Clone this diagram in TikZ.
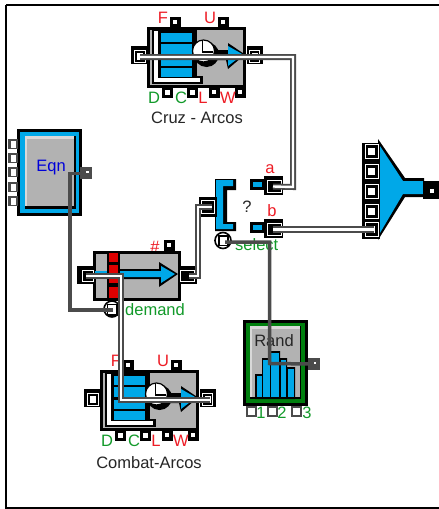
\documentclass[tikz,border=0pt]{standalone}
\usepackage{fontspec}
\setmainfont{Liberation Sans}
\definecolor{wgray}{HTML}{4B4B4B}
\definecolor{bgray}{HTML}{B2B2B2}
\definecolor{bblue}{HTML}{00A8E8}
\definecolor{lred}{HTML}{EE1C25}
\definecolor{lgreen}{HTML}{129A2A}
\definecolor{bgreen}{HTML}{007F0E}
\definecolor{bred}{HTML}{DD0000}
\tikzset{
  lbl/.style={font=\fontsize{16.5}{18}\selectfont,inner sep=0pt,anchor=center},
  redlbl/.style={lbl,text=lred},
  greenlbl/.style={lbl,text=lgreen},
  blacklbl/.style={lbl,text=black!85},
  doublewire/.style={draw=wgray,line width=6pt,postaction={draw=white,line width=2.4pt}},
  thickwire/.style={draw=wgray,line width=7pt,postaction={draw=white,line width=3pt}},
  plainwire/.style={draw=wgray,line width=3.5pt},
  portwhite/.style={draw=black,fill=white,line width=3pt,minimum size=8pt,inner sep=0pt},
  portdot/.style={fill=black,minimum size=11pt,inner sep=0pt,path picture={\fill[white] (path picture bounding box.center) ++(-1.8,-1.8) rectangle ++(3.6,3.6);}},
  portout/.style={fill=wgray,minimum size=12pt,inner sep=0pt},
  portlarge/.style={fill=black,minimum width=16pt,minimum height=18pt,inner sep=0pt},
  ctrl/.style={circle,draw=black,line width=1.6pt,fill=white,minimum size=16pt,inner sep=0pt},
}
\newcommand{\tank}{%
  \draw[fill=bgray,line width=3pt,draw=black] (148.5,28.5) rectangle (244.5,86);
  \fill[black] (152,29) rectangle (202.5,84);
  \fill[bgray] (197,29.5) rectangle (202.5,76);
  \fill[white] (153.5,31) rectangle (158,82);
  \fill[white] (153.5,77.5) rectangle (200,82);
  \fill[bgray] (150,29.5) rectangle (152,84.5);
  \fill[black] (158,30) rectangle (196,77);
  \fill[bblue] (161,33) rectangle (192,42);
  \fill[bblue] (161,44) rectangle (192,54);
  \fill[bblue] (161,57) rectangle (192,66);
  \fill[bblue] (161,68) rectangle (192,77);
  \fill[black] (208,50) -- (228,50) -- (228,43) -- (245,54.5) -- (228,69) -- (226,60) -- (208,60) -- cycle;
  \fill[bblue] (228,46) -- (243,54.5) -- (228,66) -- cycle;
  \fill[black] (206.5,54.5) circle (12.5);
  \draw[black,fill=white,line width=1.2pt] (203.5,51) circle (11);
  \draw[black,line width=1.2pt] (202.5,41) -- (202.5,52) -- (213,52);
  \fill[black] (131,46) rectangle (147,64);
  \draw[white,line width=1pt] (134.5,50) rectangle (145,62);
  \fill[white] (137,52.5) rectangle (143,59.5);
  \fill[black] (247,46) rectangle (263,64);
  \draw[white,line width=1pt] (249,50) rectangle (259.5,62);
  \fill[white] (252,52.5) rectangle (258,59.5);
  \node[portdot] at (175,22) {};
  \node[portdot] at (223,22) {};
  \node[portwhite] at (167,92) {};
  \node[portwhite] at (192.5,92) {};
  \node[portdot] at (214,92) {};
  \node[portdot] at (240,92) {};
  \node[redlbl] at (163,18) {F};
  \node[redlbl] at (210,18) {U};
  \node[greenlbl] at (154,98) {D};
  \node[greenlbl] at (181,98) {C};
  \node[redlbl] at (203,98) {L};
  \node[redlbl] at (228,98) {W};
}
\begin{document}
\begin{tikzpicture}[x=1pt,y=-1pt]
\useasboundingbox (0,0) rectangle (439,509);
\fill[white] (0,0) rectangle (439,509);
\draw[black,line width=2pt] (6,5) -- (445,5);
\draw[black,line width=2pt] (6,5) -- (6,507.5) -- (445,507.5);

% Cruz block
\begin{scope}\tank\end{scope}
\node[blacklbl] (cruzlabel) at (197,118) {Cruz - Arcos};
% Combat block
\begin{scope}[shift={(-47,343)}]\tank\end{scope}
\node[blacklbl] (combatlabel) at (149,463) {Combat-Arcos};

% Eqn block
\fill[black] (17,129) rectangle (82,216);
\fill[bblue] (20,132) rectangle (79,213);
\fill[black] (25,136) rectangle (76,209);
\fill[bgray!50!white] (25,136) rectangle (74,206);
\fill[bgray] (27,139) rectangle (74,206);
\node[lbl,text=blue!85!black] (eqn) at (51,168) {Eqn};
\foreach \y in {144,158,172,187,201} {\fill[wgray] (8,\y-5) rectangle (18,\y+5); \fill[white] (10.5,\y-3.5) rectangle (16,\y+3.5);}
\node[portout] (eqnout) at (86,172.5) {};

% Demand block
\node[redlbl] (hash) at (155,247) {\#};
\node[portdot] (demtop) at (169,245) {};
\draw[fill=bgray,line width=3pt,draw=black] (94.5,252.5) rectangle (179.5,299.5);
\fill[black] (107,252) rectangle (120,299);
\foreach \a/\b in {253/262,265/274,277/283,287/298} {\fill[bred] (109,\a) rectangle (118,\b);}
\fill[bblue] (95,271) rectangle (107,277);
\fill[black] (120,269) -- (159,269) -- (159,262) -- (178,274) -- (159,287) -- (159,279) -- (120,279) -- cycle;
\fill[bblue] (120,271) -- (161,271) -- (161,266) -- (175,274) -- (161,283) -- (161,277) -- (120,277) -- cycle;
\node[portlarge] (demin) at (85,275) {};
\node[portlarge] (demout) at (188.5,275) {};
\draw[white,line width=1pt] (82,270) rectangle (93,281);
\draw[white,line width=1pt] (180,270) rectangle (194,281);
\node[greenlbl,anchor=west] (demandlabel) at (125,310) {demand};
\node[ctrl] (demctrl) at (112,309) {};
\draw[black,line width=1.4pt] (107.5,304.5) rectangle (117,315);

% Switch block
\fill[black] (215,179) -- (236,179) -- (236,190) -- (227,190) -- (227,222) -- (236,222) -- (236,231) -- (215,231) -- cycle;
\fill[bblue] (216,180) -- (233,180) -- (233,186) -- (223,186) -- (223,224) -- (233,224) -- (233,229) -- (216,229) -- cycle;
\node[fill=black,minimum width=18pt,minimum height=20pt,inner sep=0pt] (swin) at (208,207) {};
\draw[white,line width=1pt] (201,200.5) rectangle (214,213);
\fill[black] (203,202.5) rectangle (212,211);
\node[lbl,text=black!85] (qm) at (247,207) {?};
\node[ctrl] (swctrl) at (223,240.5) {};
\draw[black,line width=1.4pt] (219,236) rectangle (228,245.5);
\node[greenlbl,anchor=west] (selectlabel) at (235,245) {select};
\node[redlbl] (alabel) at (270,169) {a};
\node[redlbl] (blabel) at (272,211) {b};
\foreach \y in {176,219} {
  \fill[black] (250,\y+3) rectangle (265,\y+14);
  \fill[bblue] (253,\y+6) rectangle (262,\y+11);
  \fill[black] (264,\y) rectangle (283,\y+19);
  \draw[white,line width=1pt] (267,\y+4) rectangle (281,\y+16);
}
\coordinate (ain) at (273,186.5);
\coordinate (bin) at (273,229);

% Funnel
\fill[black] (378,139) -- (405,178) -- (424,178) -- (424,197) -- (405,197) -- (378,240) -- cycle;
\fill[bblue] (380,146) -- (403,181) -- (423,181) -- (423,194) -- (403,194) -- (380,233) -- cycle;
\fill[black] (362,143) rectangle (380,239);
\foreach \y in {151,171,191,211,229} {
  \draw[white,line width=1pt] (365,\y-7) rectangle (378,\y+7);
  \fill[white] (368,\y-3.5) rectangle (375,\y+3.5);
}
\coordinate (funin) at (374,229);
\node[fill=black,minimum width=16pt,minimum height=18pt,inner sep=0pt] (funout) at (431,190) {};
\fill[white] (430,189) rectangle (434,192.5);

% Rand block
\fill[black] (243,320) rectangle (308,406);
\fill[bgreen] (246,323) rectangle (305,403);
\fill[black] (250,326) rectangle (301,399);
\fill[bgray!50!white] (250,326) rectangle (300,397);
\fill[bgray] (252,329) rectangle (300,397);
\fill[black] (255,399) -- (255,374) -- (262,374) -- (262,358) -- (270,358) -- (270,351) -- (280,351) -- (280,358) -- (287,358) -- (287,367) -- (295,367) -- (295,399) -- cycle;
\foreach \a/\b/\c in {257/262/376,263/270/360,271/279/353,281/286/360,288/294/369} {\fill[bblue] (\a,\c) rectangle (\b,397);}
\node[blacklbl] (randlabel) at (274,341) {Rand};
\foreach \x in {251,272,296} {\draw[wgray,fill=white,line width=2pt] (\x-4.5,407) rectangle (\x+4.5,415.5);}
\node[greenlbl] (r1) at (261,413) {1};
\node[greenlbl] (r2) at (282,413) {2};
\node[greenlbl] (r3) at (307,413) {3};
\node[portout] (randout) at (313.5,363.5) {};

% connector anchors
\coordinate (cruzin) at (140,57);
\coordinate (combatin) at (210,400);
\coordinate (deminc) at (86,276);
\coordinate (demoutc) at (189,276);
\coordinate (swinc) at (212,207);
\coordinate (swc) at (225,242);
\coordinate (dc) at (113,310);
\coordinate (eqc) at (86,173.5);
\coordinate (rc) at (313,364);

% connectors
\draw[doublewire] (cruzin) -- (293,57) -- (293,187) -- (ain);
\draw[thickwire] (bin) -- (funin);
\draw[doublewire] (deminc) -- (121,276) -- (121,400) -- (combatin);
\draw[doublewire] (demoutc) -- (198,276) -- (198,207) -- (swinc);
\draw[plainwire] (eqc) -- (70,173.5) -- (70,310) -- (dc);
\draw[plainwire] (swc) -- (269.5,242) -- (269.5,363.5) -- (rc);
\fill[white] (86,171) rectangle (88.5,173);
\fill[white] (313.5,362) rectangle (316,364);
\end{tikzpicture}
\end{document}
